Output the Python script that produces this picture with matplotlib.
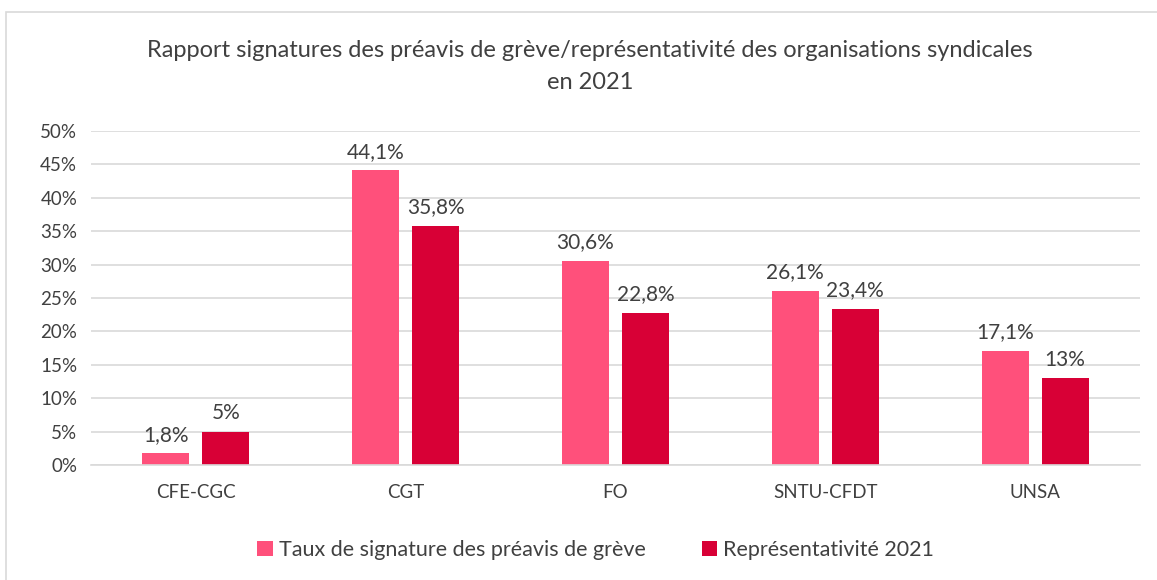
import matplotlib.pyplot as plt
import numpy as np
from matplotlib.patches import Rectangle

# Data
categories = ['CFE-CGC', 'CGT', 'FO', 'SNTU-CFDT', 'UNSA']
taux_signature = [1.8, 44.1, 30.6, 26.1, 17.1]
representativite = [5, 35.8, 22.8, 23.4, 13]
labels_signature = ['1,8%', '44,1%', '30,6%', '26,1%', '17,1%']
labels_repr = ['5%', '35,8%', '22,8%', '23,4%', '13%']
yticks = [0, 5, 10, 15, 20, 25, 30, 35, 40, 45, 50]

plt.rcParams['font.family'] = ['Lato', 'DejaVu Sans']

fig = plt.figure(figsize=(11.57, 5.8), dpi=100)
ax = fig.add_axes([0.0787, 0.1983, 0.9066, 0.5758])

# Light border around the chart area
fig.patches.append(Rectangle((0.005, -0.05), 1.1, 1.029, transform=fig.transFigure,
                             fill=False, edgecolor='#d9d9d9', linewidth=1.2))

x = np.arange(len(categories))
w = 0.224
off = 0.143
b1 = ax.bar(x - off, taux_signature, w, color='#FF507B', label='Taux de signature des préavis de grève')
b2 = ax.bar(x + off, representativite, w, color='#D80036', label='Représentativité 2021')

for rect, lab in zip(b1, labels_signature):
    ax.annotate(lab, (rect.get_x() + rect.get_width() / 2, rect.get_height()),
                xytext=(0, 6), textcoords='offset points', ha='center', va='bottom',
                fontsize=15, color='#404040')
for rect, lab in zip(b2, labels_repr):
    ax.annotate(lab, (rect.get_x() + rect.get_width() / 2, rect.get_height()),
                xytext=(0, 6), textcoords='offset points', ha='center', va='bottom',
                fontsize=15, color='#404040')

ax.set_xlim(-0.5, len(categories) - 0.5)
ax.set_ylim(0, 50)
ax.set_yticks(yticks)
ax.set_yticklabels([f'{t}%' for t in yticks])
ax.set_xticks(x)
ax.set_xticklabels(categories)
ax.tick_params(axis='both', length=0, labelsize=13.5, labelcolor='#404040')
ax.tick_params(axis='x', pad=14)
ax.tick_params(axis='y', pad=10)
ax.grid(axis='y', color='#d9d9d9', linewidth=1.2)
ax.set_axisbelow(True)
for s in ['top', 'right', 'left']:
    ax.spines[s].set_visible(False)
ax.spines['bottom'].set_color('#d9d9d9')
ax.spines['bottom'].set_linewidth(1.2)

fig.text(0.51, 0.885, 'Rapport signatures des préavis de grève/représentativité des organisations syndicales\nen 2021',
         ha='center', va='center', fontsize=17, color='#404040', linespacing=1.65)

fig.legend(loc='center', bbox_to_anchor=(0.515, 0.052), ncol=2, frameon=False,
           fontsize=15.5, labelcolor='#404040', handlelength=0.7, handleheight=0.7,
           handletextpad=0.3, columnspacing=2.6)

fig.savefig('out.png', dpi=100)
